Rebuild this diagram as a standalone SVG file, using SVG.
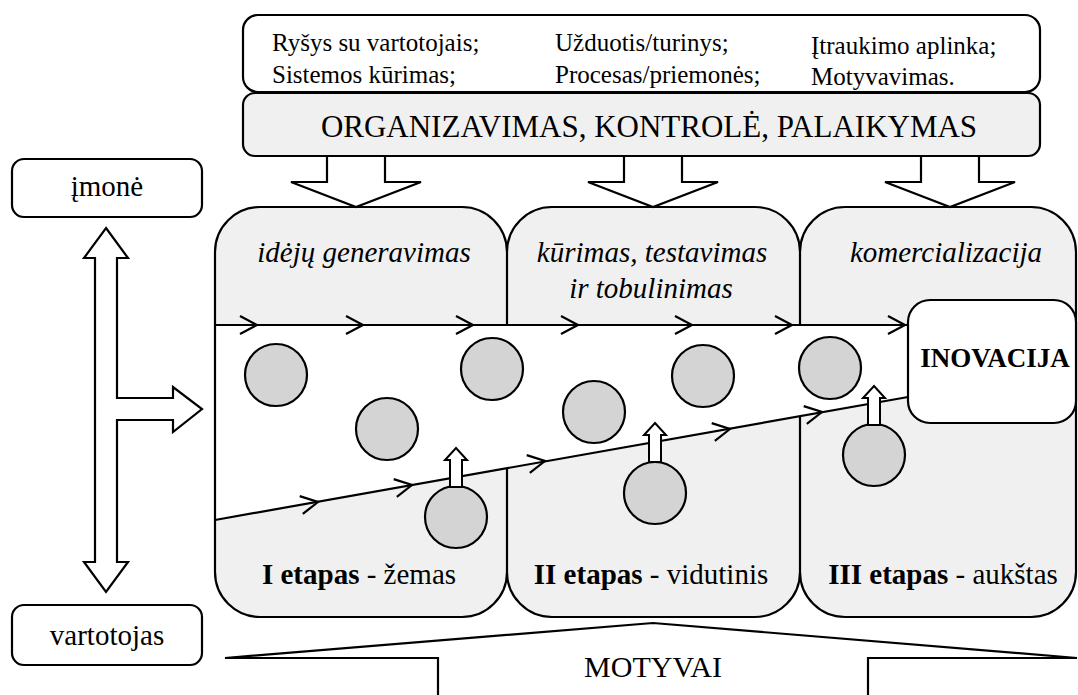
<svg xmlns="http://www.w3.org/2000/svg" width="1078" height="695" viewBox="0 0 1078 695" font-family="'Liberation Serif', 'DejaVu Serif', serif">
<style>
text{font-family:'Liberation Serif','DejaVu Serif',serif;fill:#000}
.ln{fill:none;stroke:#000;stroke-width:2.2;stroke-linejoin:miter}
.c{fill:#d4d4d4;stroke:#000;stroke-width:2.2}
.t24{font-size:25px}
.t28{font-size:29px}
.it{font-size:29px;font-style:italic}
</style>
<defs>
<path id="chev" d="M-17,-9 L0,0 L-17,9" fill="none" stroke="#000" stroke-width="2.2"/>
<polygon id="up" points="0,0 11,12 6,12 6,39 -6,39 -6,12 -11,12" fill="#fff" stroke="#000" stroke-width="2"/>
<polygon id="down" points="-29,0 29,0 29,26 65,26 0,51 -65,26 -29,26" fill="#fff" stroke="#000" stroke-width="2.2"/>
<path id="outline" d="M215,572 V252 A45,45 0 0 1 260,207 H462 A45,45 0 0 1 507,252 A45,45 0 0 1 552,207 H755 A45,45 0 0 1 800,252 A45,45 0 0 1 845,207 H1031 A45,45 0 0 1 1076,252 V572 A45,45 0 0 1 1031,617 H845 A45,45 0 0 1 800,572 A45,45 0 0 1 755,617 H552 A45,45 0 0 1 507,572 A45,45 0 0 1 462,617 H260 A45,45 0 0 1 215,572 Z"/>
</defs>

<g id="top-box">
<rect x="243" y="15" width="797" height="77" rx="15" fill="#fff" stroke="#000" stroke-width="2.2"/>
<text class="t24" x="272" y="51">Ryšys su vartotojais;</text>
<text class="t24" x="272" y="83">Sistemos kūrimas;</text>
<text class="t24" x="555" y="51">Užduotis/turinys;</text>
<text class="t24" x="555" y="83">Procesas/priemonės;</text>
<text class="t24" x="811" y="54">Įtraukimo aplinka;</text>
<text class="t24" x="811" y="85">Motyvavimas.</text>
</g>

<g id="org-box">
<rect x="243" y="93" width="797" height="63" rx="12" fill="#f0f0f0" stroke="#000" stroke-width="2.2"/>
<text x="649" y="137" font-size="31" text-anchor="middle">ORGANIZAVIMAS, KONTROLĖ, PALAIKYMAS</text>
</g>

<g id="stages">
<use href="#outline" fill="#f0f0f0"/>
<polygon points="215,325 908,325 908,397 215,520" fill="#fff"/>
<use href="#outline" fill="none" stroke="#000" stroke-width="2.2"/>
<path class="ln" d="M507,252 V325 M800,252 V325 M507,468 V572 M800,416 V572"/>
<text class="it" x="364" y="262" text-anchor="middle">idėjų generavimas</text>
<text class="it" x="652" y="262" text-anchor="middle">kūrimas, testavimas</text>
<text class="it" x="651" y="298" text-anchor="middle">ir tobulinimas</text>
<text class="it" x="946" y="262" text-anchor="middle">komercializacija</text>
<text class="t28" x="359" y="584" text-anchor="middle"><tspan font-weight="bold">I etapas</tspan> - žemas</text>
<text class="t28" x="651" y="584" text-anchor="middle"><tspan font-weight="bold">II etapas</tspan> - vidutinis</text>
<text class="t28" x="943" y="584" text-anchor="middle"><tspan font-weight="bold">III etapas</tspan> - aukštas</text>
</g>

<g id="inovacija">
<rect x="908" y="300" width="168" height="123" rx="22" fill="#fff" stroke="#000" stroke-width="2.2"/>
<text x="995" y="367" font-size="27" font-weight="bold" text-anchor="middle">INOVACIJA</text>
</g>

<g id="imone">
<rect x="12" y="159" width="190" height="58" rx="12" fill="#fff" stroke="#000" stroke-width="2.2"/>
<text class="t28" x="107" y="196" text-anchor="middle">įmonė</text>
</g>

<g id="vartotojas">
<rect x="12" y="605" width="190" height="60" rx="12" fill="#fff" stroke="#000" stroke-width="2.2"/>
<text class="t28" x="107" y="645" text-anchor="middle">vartotojas</text>
</g>

<g id="motyvai">
<path class="ln" d="M438,695 V658 H225 L653,623 L1077,658 H868 V695"/>
<text x="653" y="677" font-size="30" text-anchor="middle">MOTYVAI</text>
</g>

<g id="particles">
<circle class="c" cx="276" cy="375" r="31"/>
<circle class="c" cx="387" cy="429" r="31"/>
<circle class="c" cx="492" cy="369" r="31"/>
<circle class="c" cx="594" cy="412" r="31"/>
<circle class="c" cx="703" cy="376" r="31"/>
<circle class="c" cx="830" cy="368" r="31"/>
<circle class="c" cx="456" cy="517" r="31"/>
<circle class="c" cx="655" cy="493" r="31"/>
<circle class="c" cx="874" cy="455" r="31"/>
</g>

<g id="connectors">
<path class="ln" d="M215,325 H908"/>
<path class="ln" d="M215,520 L908,397"/>
<use href="#chev" transform="translate(257,325)"/>
<use href="#chev" transform="translate(363,325)"/>
<use href="#chev" transform="translate(473,325)"/>
<use href="#chev" transform="translate(578,325)"/>
<use href="#chev" transform="translate(692,325)"/>
<use href="#chev" transform="translate(792,325)"/>
<use href="#chev" transform="translate(905,325)"/>
<use href="#chev" transform="translate(318,502) rotate(-10.06)"/>
<use href="#chev" transform="translate(412,485) rotate(-10.06)"/>
<use href="#chev" transform="translate(545,461) rotate(-10.06)"/>
<use href="#chev" transform="translate(730,429) rotate(-10.06)"/>
<use href="#chev" transform="translate(822,412) rotate(-10.06)"/>
<use href="#up" transform="translate(456,448)"/>
<use href="#up" transform="translate(655,423)"/>
<use href="#up" transform="translate(874,386)"/>
<use href="#down" transform="translate(356,156)"/>
<use href="#down" transform="translate(653,156)"/>
<use href="#down" transform="translate(950,156)"/>
<polygon points="106,228 128,258 117,258 117,398 173,398 173,387 202,409 173,432 173,420 117,420 117,562 128,562 106,592 84,562 95,562 95,258 84,258" fill="#fff" stroke="#000" stroke-width="2.2"/>
</g>
</svg>
